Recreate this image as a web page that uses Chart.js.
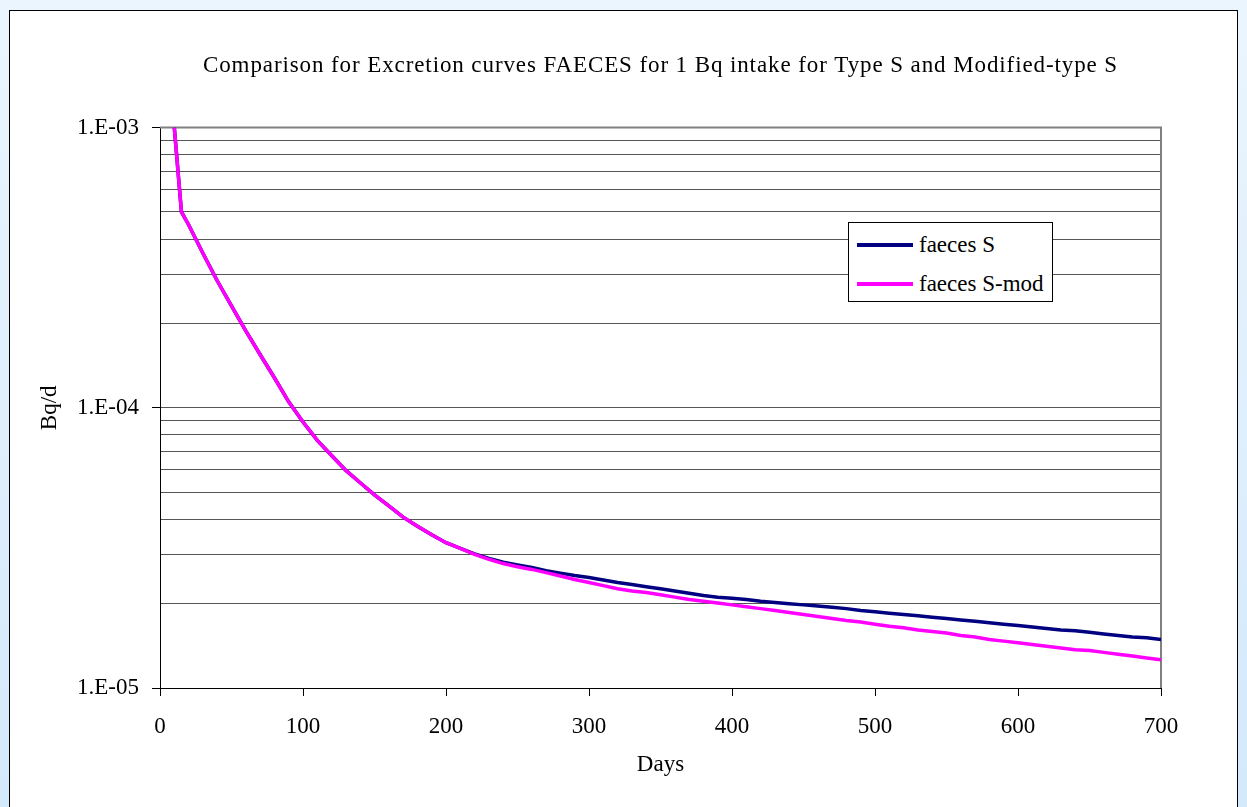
<!DOCTYPE html>
<html>
<head>
<meta charset="utf-8">
<script src="https://cdn.jsdelivr.net/npm/chart.js@4.4.1/dist/chart.umd.min.js"></script>
<style>
    html, body { margin: 0; padding: 0; }
    body {
        width: 1247px; height: 807px; overflow: hidden; position: relative;
        background: linear-gradient(#ebf5fd, #d3e9fc);
        font-family: "Liberation Serif", "Times New Roman", serif;
    }
    #frame {
        position: absolute; left: 9px; top: 10px; width: 1229px; height: 812px;
        background: #fff; border: 1px solid #000; box-sizing: border-box;
    }
    #wrap { position: absolute; left: 0; top: 0; width: 1247px; height: 807px; }
    #legend {
        position: absolute; left: 848px; top: 222px; width: 205px; height: 80px;
        background: #fff; border: 1px solid #000; box-sizing: border-box;
    }
    .leg-item { position: absolute; left: 0; height: 26px; display: flex; align-items: center; }
    .leg-line { width: 56px; height: 3.5px; margin-left: 8px; margin-right: 6px; }
    .leg-text { font-size: 23px; color: #000; white-space: nowrap; }
</style>
</head>
<body>
<div id="frame"></div>
<div id="wrap"><canvas id="excretionChart" width="1247" height="807"></canvas></div>
<div id="legend"></div>

<script>
// days after intake
const days = [10, 15, 20, 30, 40, 50, 60, 70, 80, 90, 100, 110, 120, 130, 140, 150, 160, 170, 180, 190,
    200, 210, 220, 230, 240, 250, 260, 270, 280, 290, 300, 310, 320, 330, 340, 350, 360, 370, 380, 390,
    400, 410, 420, 430, 440, 450, 460, 470, 480, 490, 500, 510, 520, 530, 540, 550, 560, 570, 580, 590,
    600, 610, 620, 630, 640, 650, 660, 670, 680, 690, 700];

// Bq/d, Type S
const faecesS = [1.0e-3, 5.0e-4, 4.5e-4, 3.56e-4, 2.84e-4, 2.31e-4, 1.88e-4, 1.55e-4, 1.28e-4, 1.05e-4,
    8.9e-5, 7.65e-5, 6.76e-5, 5.98e-5, 5.4e-5, 4.89e-5, 4.47e-5, 4.07e-5, 3.78e-5, 3.52e-5,
    3.3e-5, 3.15e-5, 3.01e-5, 2.9e-5, 2.81e-5, 2.75e-5, 2.69e-5, 2.62e-5, 2.57e-5, 2.52e-5,
    2.48e-5, 2.43e-5, 2.38e-5, 2.34e-5, 2.3e-5, 2.26e-5, 2.22e-5, 2.18e-5, 2.14e-5, 2.11e-5,
    2.09e-5, 2.07e-5, 2.04e-5, 2.02e-5, 2.0e-5, 1.98e-5, 1.96e-5, 1.94e-5, 1.92e-5, 1.89e-5,
    1.87e-5, 1.85e-5, 1.83e-5, 1.81e-5, 1.79e-5, 1.77e-5, 1.75e-5, 1.73e-5, 1.71e-5, 1.69e-5,
    1.67e-5, 1.65e-5, 1.63e-5, 1.61e-5, 1.6e-5, 1.58e-5, 1.56e-5, 1.54e-5, 1.52e-5, 1.51e-5, 1.49e-5];

// Bq/d, Modified-type S
const faecesSMod = [1.0e-3, 5.0e-4, 4.5e-4, 3.56e-4, 2.84e-4, 2.31e-4, 1.88e-4, 1.55e-4, 1.28e-4, 1.05e-4,
    8.9e-5, 7.65e-5, 6.76e-5, 5.98e-5, 5.4e-5, 4.89e-5, 4.47e-5, 4.07e-5, 3.78e-5, 3.52e-5,
    3.3e-5, 3.15e-5, 3.0e-5, 2.88e-5, 2.78e-5, 2.71e-5, 2.65e-5, 2.58e-5, 2.51e-5, 2.44e-5,
    2.38e-5, 2.32e-5, 2.26e-5, 2.22e-5, 2.19e-5, 2.15e-5, 2.11e-5, 2.07e-5, 2.04e-5, 2.01e-5,
    1.98e-5, 1.95e-5, 1.92e-5, 1.89e-5, 1.86e-5, 1.83e-5, 1.8e-5, 1.77e-5, 1.74e-5, 1.72e-5,
    1.69e-5, 1.66e-5, 1.64e-5, 1.61e-5, 1.59e-5, 1.57e-5, 1.54e-5, 1.52e-5, 1.49e-5, 1.47e-5,
    1.45e-5, 1.43e-5, 1.41e-5, 1.39e-5, 1.37e-5, 1.36e-5, 1.34e-5, 1.32e-5, 1.3e-5, 1.28e-5, 1.26e-5];

const xTicks = [0, 100, 200, 300, 400, 500, 600, 700];
const yGridValues = [1e-5, 2e-5, 3e-5, 4e-5, 5e-5, 6e-5, 7e-5, 8e-5, 9e-5,
    1e-4, 2e-4, 3e-4, 4e-4, 5e-4, 6e-4, 7e-4, 8e-4, 9e-4, 1e-3];
const yMajorValues = [1e-5, 1e-4, 1e-3];
const yMajorLabels = ['1.E-05', '1.E-04', '1.E-03'];

const seriesLabels = ['faeces S', 'faeces S-mod'];
const seriesColors = ['#000080', '#ff00ff'];

const FONT = '"Liberation Serif", "Times New Roman", serif';

function majorIndex(v) {
    return yMajorValues.findIndex(m => Math.abs(v - m) / m < 1e-6);
}

// gray frame round the plot area (Excel style)
const plotFrame = {
    id: 'plotFrame',
    beforeDatasetsDraw(chart) {
        const { ctx, chartArea: a } = chart;
        ctx.save();
        ctx.strokeStyle = '#808080';
        ctx.lineWidth = 2;
        ctx.beginPath();
        ctx.moveTo(a.left, a.top);
        ctx.lineTo(a.right, a.top);
        ctx.lineTo(a.right, a.bottom);
        ctx.stroke();
        ctx.restore();
    }
};

const ctx = document.getElementById('excretionChart').getContext('2d');
const chart = new Chart(ctx, {
    type: 'line',
    data: {
        datasets: [
            {
                label: seriesLabels[0],
                data: days.map((d, i) => ({ x: d, y: faecesS[i] })),
                borderColor: seriesColors[0],
                borderWidth: 3.5,
                pointRadius: 0,
                tension: 0,
                fill: false,
                order: 1
            },
            {
                label: seriesLabels[1],
                data: days.map((d, i) => ({ x: d, y: faecesSMod[i] })),
                borderColor: seriesColors[1],
                borderWidth: 3.5,
                pointRadius: 0,
                tension: 0,
                fill: false,
                order: 0 // magenta on top
            }
        ]
    },
    options: {
        responsive: false,
        animation: false,
        layout: { padding: { left: 0, right: 86, top: 0, bottom: 0 } },
        plugins: {
            legend: { display: false },
            tooltip: { enabled: false },
            title: {
                display: true,
                fullSize: false,
                text: 'Comparison for Excretion curves FAECES for 1 Bq intake for Type S and Modified-type S',
                color: '#000',
                font: { family: FONT, size: 23, weight: 'normal' },
                padding: { top: 52, bottom: 48 }
            }
        },
        scales: {
            x: {
                type: 'linear',
                min: 0,
                max: 700,
                afterBuildTicks: (scale) => { scale.ticks = xTicks.map(v => ({ value: v })); },
                afterFit: (scale) => { scale.height = 119; },
                border: { color: '#000', width: 1 },
                grid: { drawOnChartArea: false, drawTicks: true, tickLength: 8, color: '#000' },
                ticks: { color: '#000', padding: 17, maxRotation: 0, font: { family: FONT, size: 23 } },
                title: {
                    display: true, text: 'Days', color: '#000',
                    font: { family: FONT, size: 23 }, padding: { top: 0, bottom: 28 }
                }
            },
            y: {
                type: 'logarithmic',
                min: 1e-5,
                max: 1e-3,
                afterBuildTicks: (scale) => { scale.ticks = yGridValues.map(v => ({ value: v })); },
                afterFit: (scale) => { scale.width = 160; },
                border: { color: '#000', width: 1 },
                grid: {
                    color: '#555',
                    lineWidth: 1,
                    tickLength: 8,
                    tickColor: (c) => (c.tick && majorIndex(c.tick.value) >= 0) ? '#000' : 'rgba(0,0,0,0)'
                },
                ticks: {
                    color: '#000',
                    padding: 13,
                    autoSkip: false,
                    font: { family: FONT, size: 23 },
                    callback: (v) => { const i = majorIndex(v); return i >= 0 ? yMajorLabels[i] : ''; }
                },
                title: {
                    display: true, text: 'Bq/d', color: '#000',
                    font: { family: FONT, size: 23 }, padding: { top: 36, bottom: 0 }
                }
            }
        }
    },
    plugins: [plotFrame]
});

// the original title is set a little looser than the font's normal spacing
const titleBox = chart.titleBlock;
const drawTitle = titleBox.draw.bind(titleBox);
titleBox.draw = function () {
    const c = this.ctx;
    c.save();
    c.letterSpacing = '0.9px';
    drawTitle();
    c.restore();
};
chart.draw();

// legend box placed inside the plot, as in the original
const legendEl = document.getElementById('legend');
chart.data.datasets.forEach((ds, i) => {
    const item = document.createElement('div');
    item.className = 'leg-item';
    item.style.top = (9 + i * 39) + 'px';
    item.innerHTML = `<div class="leg-line" style="background:${ds.borderColor}"></div>` +
        `<span class="leg-text">${ds.label}</span>`;
    legendEl.appendChild(item);
});
</script>
</body>
</html>
